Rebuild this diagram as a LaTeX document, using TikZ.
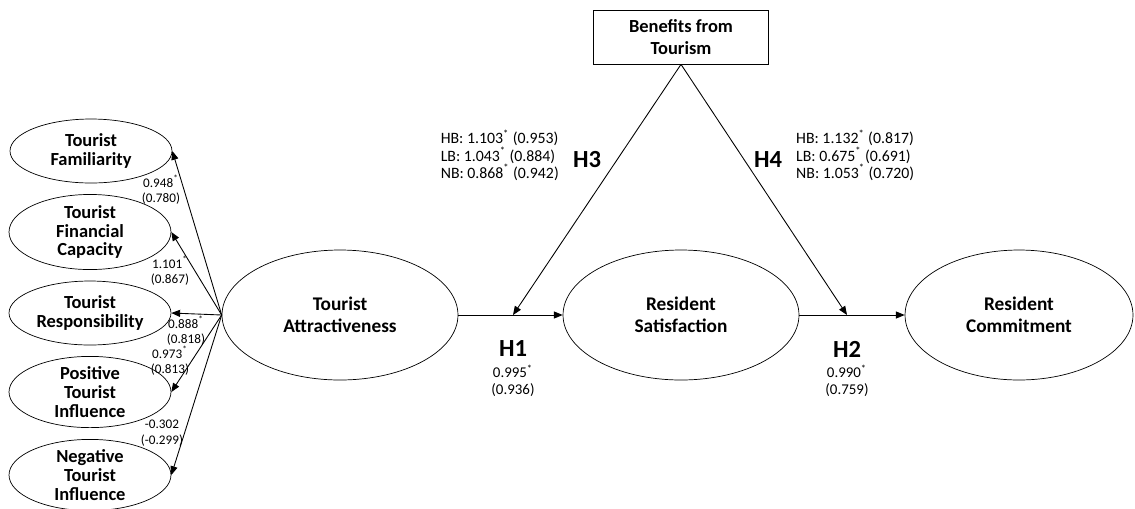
\documentclass[tikz,border=0pt]{standalone}
\usepackage{fontspec}
\setmainfont{Carlito}
\usetikzlibrary{shapes.geometric,arrows.meta}

\newcommand{\signif}{\textsuperscript{*}}

\tikzset{
  factor/.style={ellipse,draw,inner sep=0pt,minimum width=3.24cm,minimum height=1.28cm,align=center,font=\fontsize{10.5}{10.6}\selectfont\bfseries},
  construct/.style={ellipse,draw,inner sep=0pt,minimum width=4.72cm,minimum height=2.6cm,align=center,font=\fontsize{11}{12.5}\selectfont\bfseries},
  loading/.style={align=center,font=\fontsize{7.5}{9}\selectfont},
  coef/.style={align=left,font=\fontsize{9}{9.7}\selectfont},
  hyp/.style={font=\fontsize{14}{14}\selectfont\bfseries},
  link/.style={-{Triangle[length=5pt,width=4pt]},line width=0.5pt}
}

\begin{document}
\begin{tikzpicture}[x=0.02cm,y=-0.02cm]
    \useasboundingbox (0,0) rectangle (1135,508);
    %NODE
    \node[factor] (TF) at (91,151){Tourist\\Familiarity};
    \node[factor] (TFC) at (90,232){Tourist\\Financial\\Capacity};
    \node[factor] (TR) at (90,313){Tourist\\Responsibility};
    \node[factor] (PTI) at (90,392){Positive\\Tourist\\Influence};
    \node[factor] (NTI) at (90,475){Negative\\Tourist\\Influence};

    \node[construct] (TA) at (340,315){Tourist\\Attractiveness};
    \node[construct] (RS) at (681,315){Resident\\Satisfaction};
    \node[construct,minimum width=4.56cm] (RC) at (1019,315){Resident\\Commitment};
    \node[draw,rectangle,minimum width=3.5cm,minimum height=1.08cm,align=center,font=\fontsize{10.5}{12.5}\selectfont\bfseries] (BT) at (681,37){Benefits from\\Tourism};

    \coordinate (M1) at (513,315);
    \coordinate (M2) at (847,315);

    %EDGE
    \draw[link] (TA.west) -- (TF.east);
    \draw[link] (TA.west) -- (TFC.east);
    \draw[link] (TA.west) -- (TR.east);
    \draw[link] (TA.west) -- (PTI.east);
    \draw[link] (TA.west) -- (NTI.east);
    \draw[link] (TA.east) -- (RS.west);
    \draw[link] (RS.east) -- (RC.west);
    \draw[link] (BT.south) -- (M1);
    \draw[link] (BT.south) -- (M2);

    %LABEL
    \node[loading] (L1) at (161,190){0.948\signif\\(0.780)};
    \node[loading] (L2) at (170,271){1.101\signif\\(0.867)};
    \node[loading] (L3) at (186,331){0.888\signif\\(0.818)};
    \node[loading] (L4) at (170,361){0.973\signif\\(0.813)};
    \node[loading] (L5) at (162,433){-0.302\\(-0.299)};

    \node[hyp] (H1) at (513,349){H1};
    \node[loading,font=\fontsize{8.5}{9.6}\selectfont] (C1) at (513,381){0.995\signif\\(0.936)};
    \node[hyp] (H2) at (847,349){H2};
    \node[loading,font=\fontsize{8.5}{9.6}\selectfont] (C2) at (847,381){0.990\signif\\(0.759)};

    \node[hyp] (H3) at (587,160){H3};
    \node[coef,anchor=east] (C3) at (565,155){HB: 1.103\signif{} (0.953)\\LB: 1.043\signif{} (0.884)\\NB: 0.868\signif{} (0.942)};
    \node[hyp] (H4) at (768,160){H4};
    \node[coef,anchor=west] (C4) at (790,155){HB: 1.132\signif{} (0.817)\\LB: 0.675\signif{} (0.691)\\NB: 1.053\signif{} (0.720)};
\end{tikzpicture}
\end{document}
